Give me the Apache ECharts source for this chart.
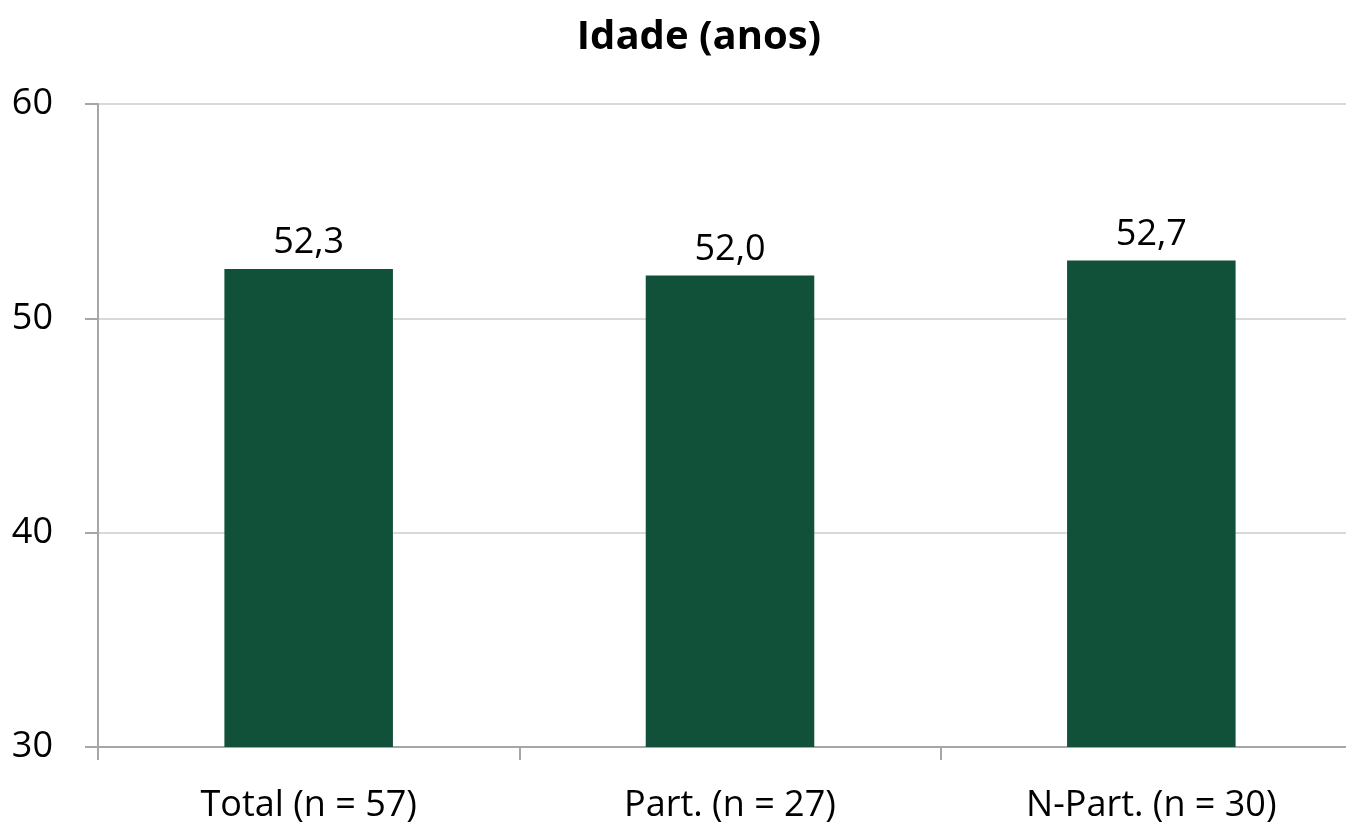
<!DOCTYPE html>
<html>
<head>
<meta charset="utf-8">
<script src="https://cdn.jsdelivr.net/npm/echarts@6/dist/echarts.min.js"></script>
<style>html,body{margin:0;padding:0;background:#fff;overflow:hidden;width:1346px;height:825px}#c{width:1362px;height:825px}</style>
</head>
<body>
<div id="c"></div>
<script>
var categories = ['Total (n = 57)', 'Part. (n = 27)', 'N-Part. (n = 30)'];
var values = [52.3, 52.0, 52.7];
var yTicks = [30, 40, 50, 60];
var titleText = 'Idade (anos)';

var FONT = '"Open Sans", "Noto Sans", sans-serif';
var chart = echarts.init(document.getElementById('c'));
chart.setOption({
  animation: false,
  backgroundColor: '#ffffff',
  title: {
    text: titleText, left: 694, textAlign: 'center', top: 13,
    textStyle: { fontFamily: FONT, fontSize: 40, fontWeight: 'bold', color: '#000' }
  },
  grid: { left: 98, right: 0, top: 104, bottom: 78, containLabel: false },
  xAxis: {
    type: 'category', data: categories,
    axisLine: { lineStyle: { color: '#a6a6a6', width: 2 } },
    axisTick: { show: true, length: 13, alignWithLabel: false, lineStyle: { color: '#a6a6a6', width: 2 } },
    axisLabel: { fontFamily: FONT, fontSize: 36, color: '#000', margin: 41 }
  },
  yAxis: {
    type: 'value', min: yTicks[0], max: yTicks[yTicks.length - 1], interval: 10,
    axisLine: { show: true, lineStyle: { color: '#a6a6a6', width: 2 } },
    axisTick: { show: true, length: 13, lineStyle: { color: '#a6a6a6', width: 2 } },
    splitLine: { lineStyle: { color: '#d9d9d9', width: 2 } },
    axisLabel: { fontFamily: FONT, fontSize: 36, color: '#000', margin: 45 }
  },
  series: [{
    type: 'bar', data: values, barCategoryGap: '60%',
    itemStyle: { color: '#11513A' },
    label: {
      show: true, position: 'top', distance: 8,
      fontFamily: FONT, fontSize: 36, color: '#000',
      formatter: function (p) { return p.value.toFixed(1).replace('.', ','); }
    }
  }]
});
</script>
</body>
</html>
